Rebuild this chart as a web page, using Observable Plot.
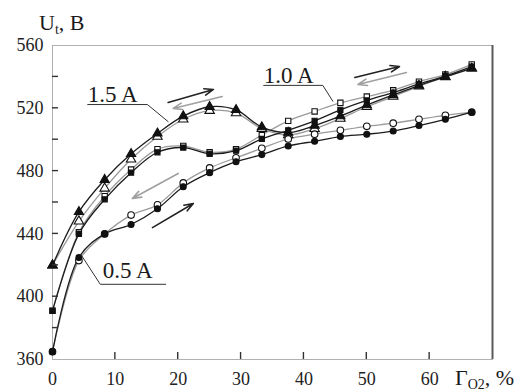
<!DOCTYPE html>
<html><head><meta charset="utf-8">
<script src="https://cdn.jsdelivr.net/npm/d3@7"></script>
<script src="https://cdn.jsdelivr.net/npm/@observablehq/plot@0.6"></script>
<style>body{margin:0;background:#fff}svg{display:block}</style>
</head><body><div id="chart"></div>
<script>
// O2 share, %
const gammaO2 = [0, 4.2, 8.3, 12.5, 16.7, 20.8, 25, 29.2, 33.3, 37.5, 41.7, 45.8, 50, 54.2, 58.3, 62.5, 66.7];
// target voltage U_t, V
const u15Up   = [420, 454, 474.5, 491, 504, 515, 521, 519, 508, 504.5, 509, 515, 522, 528.5, 534.5, 540, 545.5];
const u15Down = [420, 448, 469, 487.5, 502, 513, 518.5, 517, 507, 503, 507, 513.5, 521, 527.5, 534, 540, 545.5];
const u10Up   = [391, 440, 462, 479, 492, 495, 491, 493, 500.5, 506, 512, 519, 525, 530, 535.5, 540.5, 546.5];
const u10Down = [391, 441, 464, 481, 494, 496, 492, 494, 503, 512, 518, 523.5, 527.5, 531.5, 537, 541.5, 548];
const u05Up   = [365, 425, 440, 446, 456, 470, 479, 486, 490.5, 496, 499, 502, 503.5, 505.5, 509, 513, 517.5];
const u05Down = [365, 423, 440, 452, 458.5, 472.5, 482, 488.5, 494.5, 500.5, 503.5, 506, 508.5, 510.5, 513, 515.5, 517.5];

const xTickLabels = [0, 10, 20, 30, 40, 50, 60];
const xTickMarks = [10, 20, 30, 40, 50, 60];
const yTickLabels = [360, 400, 440, 480, 520, 560];
const yTickMarks = [380, 400, 420, 440, 460, 480, 500, 520, 540];

// annotation labels (data units)
const labelText = ["1.5 A", "1.0 A", "0.5 A"];
const labelX = [5.6, 33.6, 8.0];
const labelY = [523.8, 535.9, 411.8];
const leader15 = [[5.6, 522.4], [15.1, 522.4], [18.4, 511.5]];
const leader10 = [[33.6, 534.6], [43.0, 534.6], [44.6, 524.5]];
const leader05 = [[18.0, 407.9], [7.6, 407.9], [4.5, 427]];

// direction arrows (data units)
const arrowX1 = [18.4, 27.0, 48.1, 56.3, 20.0, 15.9];
const arrowY1 = [523.7, 527.5, 539.6, 542.8, 478.5, 444.0];
const arrowX2 = [25.6, 19.2, 55.2, 48.6, 12.7, 22.4];
const arrowY2 = [532.0, 519.9, 546.6, 535.2, 462.5, 459.4];
const arrowDir = ["up", "down", "up", "down", "down", "up"];

const series = [
  {key: "1.5 down", values: u15Down, dir: "down", sym: "triangle", r: 3.5},
  {key: "1.0 down", values: u10Down, dir: "down", sym: "square", r: 3.0},
  {key: "0.5 down", values: u05Down, dir: "down", sym: "circle", r: 3.3},
  {key: "1.5 up", values: u15Up, dir: "up", sym: "triangle", r: 3.4},
  {key: "1.0 up", values: u10Up, dir: "up", sym: "square", r: 2.9},
  {key: "0.5 up", values: u05Up, dir: "up", sym: "circle", r: 3.0}
];
const rows = series.flatMap(s => gammaO2.map((g, i) => ({g, u: s.values[i], key: s.key, dir: s.dir})));
const arrows = arrowX1.map((d, i) => ({x1: d, y1: arrowY1[i], x2: arrowX2[i], y2: arrowY2[i], dir: arrowDir[i]}));
const labels = labelText.map((t, i) => ({t, x: labelX[i], y: labelY[i]}));

const serif = "'Liberation Serif', 'DejaVu Serif', serif";
const dark = "#1c1c1c", gray = "#9a9a9a";

const W = 528, H = 392, mL = 52, mR = 36, mT = 45, mB = 33;
const xDomain = [0, 70], yDomain = [360, 560];

const marks = [
  Plot.frame({stroke: "#b0b0b0", strokeWidth: 1}),
  Plot.ruleX([xDomain[1]], {stroke: "#5a5a5a", strokeWidth: 2}),
  Plot.axisX({ticks: xTickLabels, tickSize: 0, tickPadding: 13, fontSize: 18, fontFamily: serif, fill: "#222", label: null}),
  Plot.axisY({ticks: yTickLabels, tickSize: 0, tickPadding: 9, fontSize: 18, fontFamily: serif, fill: "#222", label: null}),
  Plot.line(rows.filter(d => d.dir === "down"), {x: "g", y: "u", z: "key", stroke: gray, strokeWidth: 1.3, curve: "catmull-rom"}),
  Plot.line(rows.filter(d => d.dir === "up"), {x: "g", y: "u", z: "key", stroke: dark, strokeWidth: 1.3, curve: "catmull-rom"})
];
for (const s of series) {
  const pts = gammaO2.map((g, i) => ({g, u: s.values[i]}));
  marks.push(Plot.dot(pts, {x: "g", y: "u", symbol: s.sym, r: s.r,
    fill: s.dir === "up" ? "#111" : "#fff", stroke: "#111", strokeWidth: 1.1}));
}
for (const L of [leader15, leader10, leader05]) {
  marks.push(Plot.line(L, {x: d => d[0], y: d => d[1], stroke: "#333", strokeWidth: 1}));
}
marks.push(
  Plot.arrow(arrows, {x1: "x1", y1: "y1", x2: "x2", y2: "y2",
    stroke: d => d.dir === "up" ? "#222" : "#a0a0a0", strokeWidth: 1.6, headLength: 9, headAngle: 40}),
  Plot.text(labels, {x: "x", y: "y", text: "t", textAnchor: "start", lineAnchor: "bottom",
    fontSize: 23, fontFamily: serif, fill: "#1a1a1a"})
);

const chart = Plot.plot({
  width: W, height: H,
  marginLeft: mL, marginRight: mR, marginTop: mT, marginBottom: mB,
  x: {domain: xDomain},
  y: {domain: yDomain},
  style: {background: "#fff", fontFamily: serif},
  marks
});

const svg = d3.select(chart);
// inward ticks, placed with the chart's own scales
const sx = chart.scale("x"), sy = chart.scale("y");
const tg = svg.append("g").attr("stroke", "#333").attr("stroke-width", 1.4);
for (const v of xTickMarks) {
  const px = sx.apply(v), py = sy.apply(yDomain[0]);
  tg.append("line").attr("x1", px).attr("x2", px).attr("y1", py).attr("y2", py - 7);
}
for (const v of yTickMarks) {
  const px = sx.apply(xDomain[0]), py = sy.apply(v);
  tg.append("line").attr("x1", px).attr("x2", px + 6).attr("y1", py).attr("y2", py);
}

// axis titles with subscripts
const t1 = svg.append("text").attr("x", 39).attr("y", 30).attr("text-anchor", "start")
  .attr("font-family", serif).attr("font-size", 22).attr("fill", "#1a1a1a");
t1.append("tspan").text("U");
t1.append("tspan").attr("font-size", 14).attr("dy", 4).text("t");
t1.append("tspan").attr("dy", -4).text(", B");
const t2 = svg.append("text").attr("x", 455).attr("y", 385).attr("text-anchor", "start")
  .attr("font-family", serif).attr("font-size", 22).attr("fill", "#1a1a1a");
t2.append("tspan").text("Γ");
t2.append("tspan").attr("font-size", 14).attr("dy", 4).text("O2");
t2.append("tspan").attr("dy", -4).text(", %");

document.getElementById("chart").appendChild(chart);
</script>
</body></html>
